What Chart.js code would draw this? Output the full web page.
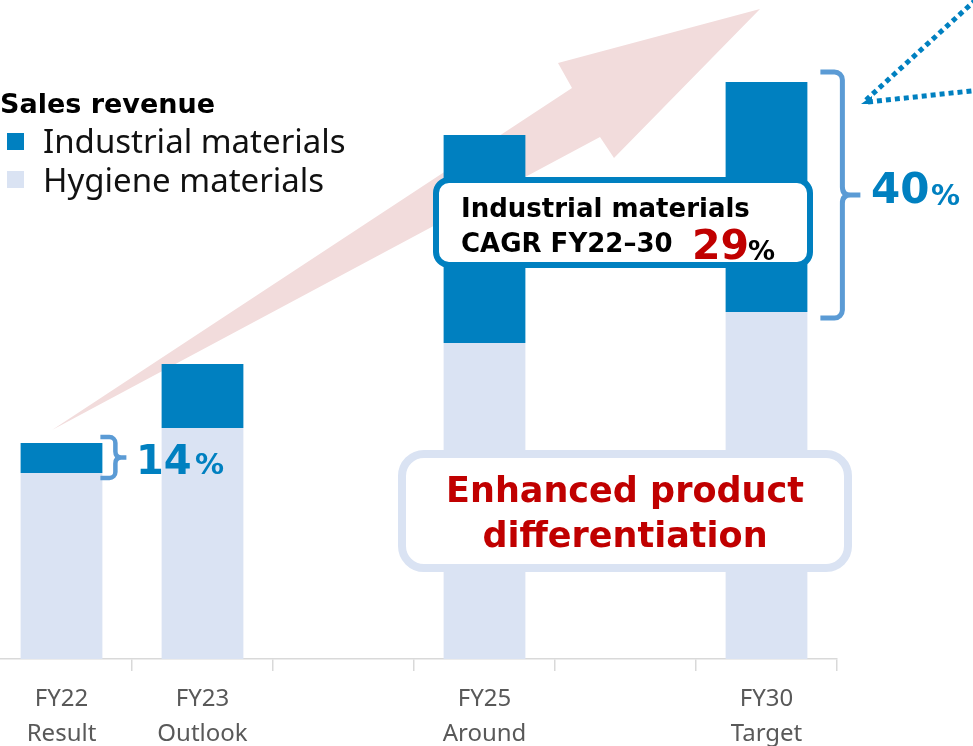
<!DOCTYPE html>
<html>
<head>
<meta charset="utf-8">
<script src="https://cdn.jsdelivr.net/npm/chart.js@4.4.1/dist/chart.umd.min.js"></script>
<style>
  html, body { margin: 0; padding: 0; background: #fff; }
  body { width: 973px; height: 746px; overflow: hidden; position: relative; }
  #wrap { position: absolute; left: -9px; top: 0; width: 982px; height: 746px; }
  .box { position: absolute; box-sizing: border-box; background: #fff; }
</style>
</head>
<body>
<div id="wrap"><canvas id="chart"></canvas></div>
<script>
// sales revenue (arbitrary units, no y axis shown)
const categories = [['FY22', 'Result'], ['FY23', 'Outlook'], '', ['FY25', 'Around'], '', ['FY30', 'Target']];
const hygieneValues = [186, 231, null, 316, null, 347];
const industrialValues = [30, 64, null, 208, null, 230];
const yMax = 659;

const BLUE = '#0080C0';
const PALE = '#DAE3F3';
const BRACE = '#5B9BD5';
const RED = '#C00000';
const SHIFT = 9; // canvas sits 9px left of the page

// ==== arrow behind the bars ====
const arrowPlugin = {
    id: 'bigArrow',
    beforeDatasetsDraw: (chart) => {
        const { ctx } = chart;
        const pts = [[760, 9], [558, 63], [572, 88], [52, 430], [600, 137], [614, 158]];
        ctx.save();
        ctx.translate(SHIFT, 0);
        ctx.fillStyle = '#F2DCDC';
        ctx.beginPath();
        pts.forEach((p, i) => i ? ctx.lineTo(p[0], p[1]) : ctx.moveTo(p[0], p[1]));
        ctx.closePath();
        ctx.fill();
        ctx.restore();
    }
};

// "}" style brace
function drawBrace(ctx, x0, xv, top, bottom, nub, r, lw) {
    const mid = (top + bottom) / 2;
    ctx.save();
    ctx.strokeStyle = BRACE;
    ctx.lineWidth = lw;
    ctx.lineJoin = 'round';
    ctx.beginPath();
    ctx.moveTo(x0, top);
    ctx.arcTo(xv, top, xv, top + r, r);
    ctx.lineTo(xv, mid - r);
    ctx.quadraticCurveTo(xv, mid, xv + r, mid);
    ctx.lineTo(nub, mid);
    ctx.moveTo(xv + r, mid);
    ctx.quadraticCurveTo(xv, mid, xv, mid + r);
    ctx.lineTo(xv, bottom - r);
    ctx.arcTo(xv, bottom, x0, bottom, r);
    ctx.lineTo(x0, bottom);
    ctx.stroke();
    ctx.restore();
}

// ==== braces + dotted pointer ====
const notesPlugin = {
    id: 'notes',
    afterDraw: (chart) => {
        const { ctx } = chart;
        const ind = chart.getDatasetMeta(1).data;

        const b0 = ind[0];
        drawBrace(ctx, b0.x + b0.width / 2 - 2, b0.x + b0.width / 2 + 13, b0.y - 6, b0.base + 5, b0.x + b0.width / 2 + 24, 6, 4.5);

        const b5 = ind[5];
        drawBrace(ctx, b5.x + b5.width / 2 + 13, b5.x + b5.width / 2 + 35, b5.y - 10, b5.base + 6, b5.x + b5.width / 2 + 53, 8, 5);

        ctx.save();
        ctx.translate(SHIFT, 0);
        ctx.strokeStyle = BLUE;
        ctx.fillStyle = BLUE;
        ctx.lineWidth = 5;
        ctx.setLineDash([5, 4]);
        ctx.beginPath();
        ctx.moveTo(866, 100);
        ctx.lineTo(980, -4);
        ctx.moveTo(868, 102);
        ctx.lineTo(980, 90);
        ctx.stroke();
        ctx.setLineDash([]);
        ctx.beginPath();
        ctx.moveTo(861, 104);
        ctx.lineTo(872, 96);
        ctx.lineTo(872, 104);
        ctx.closePath();
        ctx.fill();
        ctx.restore();
    }
};

new Chart(document.getElementById('chart'), {
    type: 'bar',
    data: {
        labels: categories,
        datasets: [
            { label: 'Hygiene materials', data: hygieneValues, backgroundColor: PALE },
            { label: 'Industrial materials', data: industrialValues, backgroundColor: BLUE }
        ]
    },
    options: {
        responsive: true,
        maintainAspectRatio: false,
        devicePixelRatio: 1,
        animation: false,
        layout: { padding: { left: 0, right: 136, top: 0, bottom: 0 } },
        datasets: { bar: { categoryPercentage: 1, barPercentage: 0.58, borderWidth: 0 } },
        scales: {
            x: {
                stacked: true,
                offset: true,
                afterFit: (scale) => { scale.height = 87; },
                grid: { offset: true, drawOnChartArea: false, tickLength: 12, color: '#D9D9D9', lineWidth: 1.5 },
                border: { color: '#D9D9D9', width: 1.5 },
                ticks: {
                    autoSkip: false, maxRotation: 0, padding: 11,
                    color: '#595959',
                    font: { family: '"Noto Sans", sans-serif', size: 24, lineHeight: 1.46 }
                }
            },
            y: { stacked: true, display: false, min: 0, max: yMax }
        },
        plugins: { legend: { display: false }, tooltip: { enabled: false } }
    },
    plugins: [arrowPlugin, notesPlugin]
});

// ==== text overlays ====
function addText(txt, x, cy, size, weight, color, family, center) {
    const d = document.createElement('div');
    const lh = Math.round(size * 1.2);
    d.textContent = txt;
    Object.assign(d.style, {
        position: 'absolute', top: (cy - lh / 2) + 'px',
        font: `${weight} ${size}px ${family}`, lineHeight: lh + 'px',
        color: color, whiteSpace: 'nowrap'
    });
    if (center) {
        d.style.left = (x - 300) + 'px';
        d.style.width = '600px';
        d.style.textAlign = 'center';
    } else {
        d.style.left = x + 'px';
    }
    document.body.appendChild(d);
    return d;
}
function addBox(x, y, w, h, border, color, radius) {
    const d = document.createElement('div');
    d.className = 'box';
    Object.assign(d.style, {
        left: x + 'px', top: y + 'px', width: w + 'px', height: h + 'px',
        border: `${border}px solid ${color}`, borderRadius: radius + 'px'
    });
    document.body.appendChild(d);
    return d;
}

const BOLD = '"DejaVu Sans", Verdana, sans-serif';
const REG = '"Noto Sans", sans-serif';

// legend
addText('Sales revenue', 0, 104, 27, 'bold', '#000', BOLD);
addBox(7, 133, 17, 17, 0, BLUE, 0).style.background = BLUE;
addText('Industrial materials', 43, 141, 33, 'normal', '#111', REG);
addBox(7, 171, 17, 17, 0, PALE, 0).style.background = PALE;
addText('Hygiene materials', 43, 180, 33, 'normal', '#111', REG);

// CAGR box
addBox(433, 177, 380, 91, 6, BLUE, 16);
addText('Industrial materials', 461, 208, 26, 'bold', '#000', BOLD);
addText('CAGR FY22\u201330', 461, 243, 26, 'bold', '#000', BOLD);
addText('29', 692, 245, 41, 'bold', RED, BOLD);
addText('%', 748, 251, 27, 'bold', '#000', BOLD);

// shares
addText('14', 136, 460, 40, 'bold', BLUE, BOLD);
addText('%', 195, 464, 29, 'bold', BLUE, BOLD);
addText('40', 871, 189, 42, 'bold', BLUE, BOLD);
addText('%', 931, 195, 29, 'bold', BLUE, BOLD);

// differentiation box
addBox(398, 450, 454, 122, 8, PALE, 26);
addText('Enhanced product', 625, 490, 35, 'bold', RED, BOLD, true);
addText('differentiation', 625, 535, 35, 'bold', RED, BOLD, true);
</script>
</body>
</html>
